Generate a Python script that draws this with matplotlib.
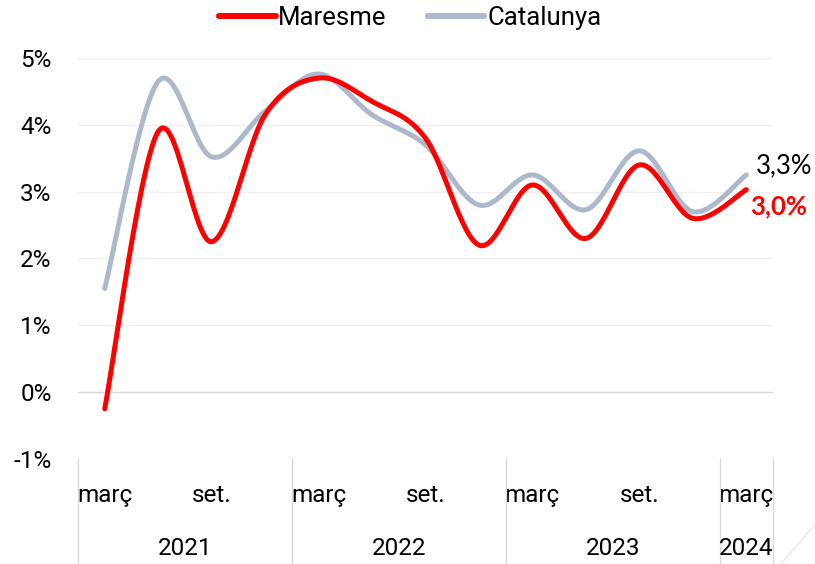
import numpy as np
import matplotlib
matplotlib.use("Agg")
import matplotlib.pyplot as plt
from matplotlib.lines import Line2D
import matplotlib.transforms as mtransforms

# quarterly series, març 2021 .. març 2024
months = ['març', 'juny', 'set.', 'des.'] * 3 + ['març']
years = ['2021', '2022', '2023', '2024']
maresme = [-0.25, 3.9, 2.25, 4.15, 4.7, 4.35, 3.8, 2.2, 3.1, 2.3, 3.4, 2.6, 3.03]
catalunya = [1.55, 4.65, 3.52, 4.2, 4.76, 4.15, 3.7, 2.8, 3.25, 2.73, 3.61, 2.7, 3.25]

narrow = ['Roboto', 'DejaVu Sans']
wide = ['Lato', 'DejaVu Sans']
fs = 17.5


def smooth(y, n=30):
    # catmull-rom style smoothing like Excel's "smoothed line"
    y = np.asarray(y, float)
    x = np.arange(len(y), dtype=float)
    px = np.concatenate([[x[0]], x, [x[-1]]])
    py = np.concatenate([[y[0]], y, [y[-1]]])
    xs, ys = [], []
    t = np.linspace(0, 1, n)
    for i in range(1, len(px) - 2):
        p0, p1, p2, p3 = (np.array([px[j], py[j]]) for j in (i - 1, i, i + 1, i + 2))
        c1 = p1 + (p2 - p0) / 6
        c2 = p2 - (p3 - p1) / 6
        b = ((1 - t) ** 3)[:, None] * p1 + (3 * (1 - t) ** 2 * t)[:, None] * c1 \
            + (3 * (1 - t) * t ** 2)[:, None] * c2 + (t ** 3)[:, None] * p2
        xs.append(b[:, 0]); ys.append(b[:, 1])
    return np.concatenate(xs), np.concatenate(ys)


fig = plt.figure(figsize=(8.15, 5.64), dpi=100)
ax = fig.add_axes([0.0957, 0.1862, 0.8528, 0.711])

ax.set_xlim(-0.5, len(months) - 0.5)
ax.set_ylim(-1, 5)
for v in range(-1, 6):
    ax.axhline(v, color='#D9D9D9' if v == 0 else '#EFEFEF', lw=1, zorder=0)

xm, ym = smooth(maresme)
xc, yc = smooth(catalunya)
ax.plot(xm, ym, color='#FF0000', lw=3.6, solid_capstyle='round', label='Maresme', zorder=3)
ax.plot(xc, yc, color='#ADB9CA', lw=3.6, solid_capstyle='round', label='Catalunya', zorder=2)

for s in ax.spines.values():
    s.set_visible(False)

ax.set_yticks(range(-1, 6))
ax.set_yticklabels([f'{v}%' for v in range(-1, 6)], family=narrow, fontsize=fs)
ax.tick_params(axis='y', length=0, pad=19)

idx = list(range(0, len(months), 2))
ax.set_xticks(idx)
ax.set_xticklabels([months[i] for i in idx], family=narrow, fontsize=fs)
ax.tick_params(axis='x', length=0, pad=18)

trans = mtransforms.blended_transform_factory(ax.transData, ax.transAxes)
for b in [-0.5, 3.5, 7.5, 11.5, 12.5]:
    ax.plot([b, b], [0, -0.265], color='#D9D9D9', lw=1, transform=trans, clip_on=False)
for yr, c in zip(years, [1.5, 5.5, 9.5, 12]):
    ax.text(c, -0.222, yr, transform=trans, ha='center', va='center', family=narrow, fontsize=fs)

ax.text(len(maresme) - 1 + 0.18, 3.39, '3,3%', ha='left', va='center',
        family=wide, fontsize=18.5, color='#000000')
ax.text(len(maresme) - 1 + 0.08, 2.79, '3,0%', ha='left', va='center',
        family=wide, fontsize=18.5, fontweight='bold', color='#FF0000')

leg = ax.legend(loc='center', bbox_to_anchor=(0.478, 1.1), ncol=2, frameon=False,
                prop={'family': narrow, 'size': 18.5}, handlelength=2.2, handletextpad=0.1,
                columnspacing=1.6)
for h in leg.get_lines():
    h.set_linewidth(4.3)

fig.add_artist(Line2D([0.958, 1.0], [0.0, 0.07], color='#E6E6E6', lw=1, transform=fig.transFigure))

fig.savefig('out.png', dpi=100)
